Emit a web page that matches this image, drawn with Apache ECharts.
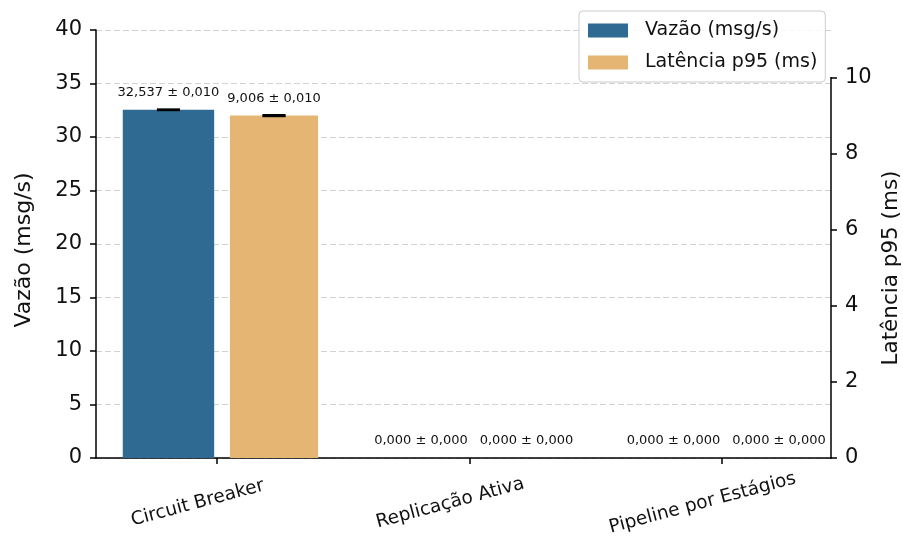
<!DOCTYPE html>
<html>
<head>
<meta charset="utf-8">
<script src="https://cdn.jsdelivr.net/npm/echarts@6/dist/echarts.min.js"></script>
<style>
  html, body { margin: 0; padding: 0; background: #ffffff; }
  #chart { width: 903px; height: 547px; }
</style>
</head>
<body>
<div id="chart"></div>
<script>
// Benchmark results per resilience strategy
const categories = ['Circuit Breaker', 'Replicação Ativa', 'Pipeline por Estágios'];
const seriesNames = ['Vazão (msg/s)', 'Latência p95 (ms)'];
const throughput = [32.537, 0.000, 0.000];
const throughputErr = [0.010, 0.000, 0.000];
const latencyP95 = [9.006, 0.000, 0.000];
const latencyErr = [0.010, 0.000, 0.000];
const rightTicks = [0, 2, 4, 6, 8, 10];
const categoryTicks = [0, 1, 2];

const FONT = '"DejaVu Sans", sans-serif';
const BLUE = '#2e6a92';
const ORANGE = '#e5b574';

const fmt = v => v.toFixed(3).replace('.', ',');

// Bar + error bar + value label, drawn in data units along the x axis
function barRenderer(offset, width, color) {
  return function (params, api) {
    const x = api.value(0), v = api.value(1), e = api.value(2);
    const tl = api.coord([x + offset - width / 2, v]);
    const br = api.coord([x + offset + width / 2, 0]);
    const cx = (tl[0] + br[0]) / 2;
    const yHi = api.coord([x, v + e])[1];
    const yLo = api.coord([x, v - e])[1];
    const cap = 11.5;
    const children = [
      { type: 'rect', shape: { x: tl[0], y: tl[1], width: br[0] - tl[0], height: br[1] - tl[1] },
        style: { fill: color } }
    ];
    if (e > 0) {
      children.push(
        { type: 'line', shape: { x1: cx, y1: yHi, x2: cx, y2: yLo }, style: { stroke: '#000', lineWidth: 2 } },
        { type: 'line', shape: { x1: cx - cap, y1: yHi, x2: cx + cap, y2: yHi }, style: { stroke: '#000', lineWidth: 2.5 } },
        { type: 'line', shape: { x1: cx - cap, y1: yLo, x2: cx + cap, y2: yLo }, style: { stroke: '#000', lineWidth: 2.5 } }
      );
    }
    children.push({ type: 'text', style: { x: cx, y: yHi - 17, text: fmt(v) + ' ± ' + fmt(e),
      align: 'center', verticalAlign: 'middle', font: '13px ' + FONT, fill: '#111' } });
    return { type: 'group', children };
  };
}

const chart = echarts.init(document.getElementById('chart'), null, { renderer: 'canvas' });

chart.setOption({
  animation: false,
  backgroundColor: '#ffffff',
  textStyle: { fontFamily: FONT },
  grid: { left: 96, right: 72, top: 30, bottom: 89, containLabel: false },
  legend: {
    data: seriesNames,
    orient: 'vertical',
    left: 579, top: 11,
    icon: 'rect',
    itemWidth: 40, itemHeight: 14, itemGap: 13,
    padding: [10, 8, 10, 9],
    backgroundColor: 'rgba(255,255,255,0.85)',
    borderColor: '#cccccc', borderWidth: 1, borderRadius: 4,
    textStyle: { fontSize: 19, color: '#111', fontFamily: FONT, padding: [0, 0, 0, 12] }
  },
  xAxis: {
    type: 'value',
    min: -0.479, max: 2.432,
    axisLine: { show: true, onZero: false, lineStyle: { color: '#000', width: 1.5 } },
    axisTick: { show: true, customValues: categoryTicks, length: 6, lineStyle: { color: '#000', width: 1.5 } },
    axisLabel: {
      customValues: categoryTicks,
      formatter: v => categories[Math.round(v)],
      rotate: 15, align: 'center', verticalAlign: 'middle',
      margin: 40, padding: [0, 40, 0, 0],
      fontSize: 18.5, color: '#111', fontFamily: FONT
    },
    splitLine: { show: false }
  },
  yAxis: [
    {
      type: 'value', position: 'left',
      min: 0, max: 40, interval: 5,
      axisLine: { show: true, onZero: false, lineStyle: { color: '#000', width: 1.5 } },
      axisTick: { show: true, length: 6, lineStyle: { color: '#000', width: 1.5 } },
      axisLabel: { fontSize: 21, color: '#111', margin: 14, fontFamily: FONT },
      splitLine: { show: true, lineStyle: { color: '#d2d2d2', width: 1, type: [6, 3] } }
    },
    {
      type: 'value', position: 'right',
      min: 0, max: 11.2575,
      axisLine: { show: false, onZero: false },
      axisTick: { show: true, customValues: rightTicks, length: 6, lineStyle: { color: '#000', width: 1.5 } },
      axisLabel: { customValues: rightTicks, fontSize: 21, color: '#111', margin: 14, fontFamily: FONT },
      splitLine: { show: false }
    }
  ],
  graphic: [
    { type: 'text', x: 24, y: 250, rotation: Math.PI / 2,
      style: { text: 'Vazão (msg/s)', font: '22px ' + FONT, fill: '#111', align: 'center', verticalAlign: 'middle' } },
    { type: 'text', x: 891, y: 268, rotation: Math.PI / 2,
      style: { text: 'Latência p95 (ms)', font: '21.5px ' + FONT, fill: '#111', align: 'center', verticalAlign: 'middle' } }
  ],
  series: [
    {
      name: seriesNames[0],
      type: 'custom',
      xAxisIndex: 0, yAxisIndex: 0,
      itemStyle: { color: BLUE },
      encode: { x: 0, y: 1 },
      data: categories.map((c, i) => [i, throughput[i], throughputErr[i]]),
      renderItem: barRenderer(-0.192, 0.362, BLUE),
      z: 3
    },
    {
      name: seriesNames[1],
      type: 'custom',
      xAxisIndex: 0, yAxisIndex: 1,
      itemStyle: { color: ORANGE },
      encode: { x: 0, y: 1 },
      data: categories.map((c, i) => [i, latencyP95[i], latencyErr[i]]),
      renderItem: barRenderer(0.226, 0.349, ORANGE),
      z: 3
    },
    {
      // right spine spanning only the ticked range of the secondary axis
      type: 'custom',
      xAxisIndex: 0, yAxisIndex: 1,
      silent: true,
      data: [[0, rightTicks[0], rightTicks[rightTicks.length - 1]]],
      renderItem: function (params, api) {
        const xr = params.coordSys.x + params.coordSys.width;
        const y0 = api.coord([0, api.value(1)])[1];
        const y1 = api.coord([0, api.value(2)])[1];
        return { type: 'line', shape: { x1: xr, y1: y0 + 0.75, x2: xr, y2: y1 - 0.75 },
                 style: { stroke: '#000', lineWidth: 1.5 } };
      },
      z: 4
    }
  ]
});
</script>
</body>
</html>
